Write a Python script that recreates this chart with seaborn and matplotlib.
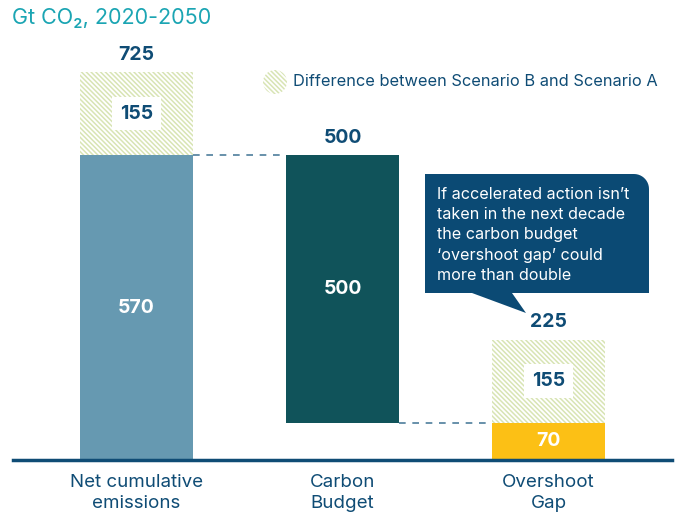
import numpy as np
import pandas as pd
import matplotlib
matplotlib.use("Agg")
import matplotlib.pyplot as plt
import matplotlib.patches as mpatches
from matplotlib.path import Path
import seaborn as sns

# data
categories = ["Net cumulative\nemissions", "Carbon\nBudget", "Overshoot\nGap"]
base_values = [570, 500, 70]
base_bottoms = [0, 70, 0]
diff_values = [155, 0, 155]
diff_bottoms = [570, 0, 70]
totals = [725, 500, 225]

bar_colors = ["#6699B1", "#10535A", "#FCC015"]
DARK = "#0F4C75"
TEAL = "#1BA5B3"
HATCH = "#D8E4B4"
CALLOUT = "#0B4A74"

sns.set_style("white")
plt.rcParams["font.family"] = ["Inter", "DejaVu Sans"]
plt.rcParams["hatch.linewidth"] = 1.1

fig = plt.figure(figsize=(6.8, 5.15), dpi=100)
ax = fig.add_axes([13 / 680, 55 / 515, 659 / 680, 428 / 515])

df = pd.DataFrame({"cat": categories, "base": base_values, "bottom": base_bottoms,
                   "diff": diff_values, "diff_bottom": diff_bottoms})
width = 0.55
hatch = "\\" * 7

sns.barplot(data=df, x="cat", y="base", bottom=df["bottom"].values, width=width,
            color=bar_colors[0], saturation=1, linewidth=0, ax=ax)
for patch, c in zip(ax.patches, bar_colors):
    patch.set_facecolor(c)

sns.barplot(data=df, x="cat", y="diff", bottom=df["diff_bottom"].values, width=width,
            color="white", saturation=1, edgecolor=HATCH, linewidth=0, hatch=hatch, ax=ax)

ax.set_xlim(-0.6, 2.6)
ax.set_ylim(0, 800)
ax.set_xlabel("")
ax.set_ylabel("")
ax.set_yticks([])
ax.tick_params(axis="x", length=0, pad=10, labelsize=13.5, labelcolor=DARK)
for lab in ax.get_xticklabels():
    lab.set_linespacing(1.3)
for side in ["top", "left", "right"]:
    ax.spines[side].set_visible(False)
ax.spines["bottom"].set_color(DARK)
ax.spines["bottom"].set_linewidth(2.5)

# connector lines
ax.plot([width / 2, 1 - width / 2], [base_values[0], base_values[0]],
        color="#4E7E9C", lw=1.2, dashes=(4, 4))
ax.plot([1 + width / 2, 2 - width / 2], [base_bottoms[1], base_bottoms[1]],
        color="#4E7E9C", lw=1.2, dashes=(4, 4))

# labels
for i, tot in enumerate(totals):
    ax.annotate(f"{tot}", (i, max(base_bottoms[i] + base_values[i], diff_bottoms[i] + diff_values[i])),
                xytext=(0, 6), textcoords="offset points", ha="center", va="bottom",
                fontsize=14, fontweight="bold", color=DARK)
for i, v in enumerate(base_values):
    ax.text(i, base_bottoms[i] + v / 2, f"{v}", ha="center", va="center",
            fontsize=14, fontweight="bold", color="white")
for i, v in enumerate(diff_values):
    if v:
        ax.text(i, diff_bottoms[i] + v / 2, f"{v}", ha="center", va="center",
                fontsize=14, fontweight="bold", color=DARK,
                bbox=dict(boxstyle="square,pad=0.4", facecolor="white", edgecolor="none"))

# title
fig.text(12 / 680, 1 - 18 / 515, "Gt CO₂, 2020-2050", ha="left", va="center",
         fontsize=15.5, color=TEAL)

# legend
fig.add_artist(mpatches.Circle((2.75, (515 - 82) / 100), 0.12, transform=fig.dpi_scale_trans,
                               facecolor="white", edgecolor=HATCH, linewidth=0, hatch=hatch))
fig.text(293 / 680, 1 - 82 / 515, "Difference between Scenario B and Scenario A",
         ha="left", va="center", fontsize=11.8, color=DARK)

# callout box
x0, x1, y0, y1, r = 4.25, 6.49, (515 - 293) / 100, (515 - 174) / 100, 0.15
ang = np.linspace(0, np.pi / 2, 12)
pts = [(x0, y0), (4.72, y0), (5.26, (515 - 313) / 100), (5.12, y0), (x1, y0), (x1, y1 - r)]
pts += [(x1 - r + r * np.cos(a), y1 - r + r * np.sin(a)) for a in ang]
pts += [(x0, y1), (x0, y0)]
fig.add_artist(mpatches.PathPatch(Path(pts), transform=fig.dpi_scale_trans,
                                  facecolor=CALLOUT, edgecolor="none"))
fig.text(437 / 680, 1 - 235 / 515,
         "If accelerated action isn’t\ntaken in the next decade\nthe carbon budget\n‘overshoot gap’ could\nmore than double",
         ha="left", va="center", fontsize=11.6, color="white", linespacing=1.42)

fig.savefig("out.png", dpi=100)
